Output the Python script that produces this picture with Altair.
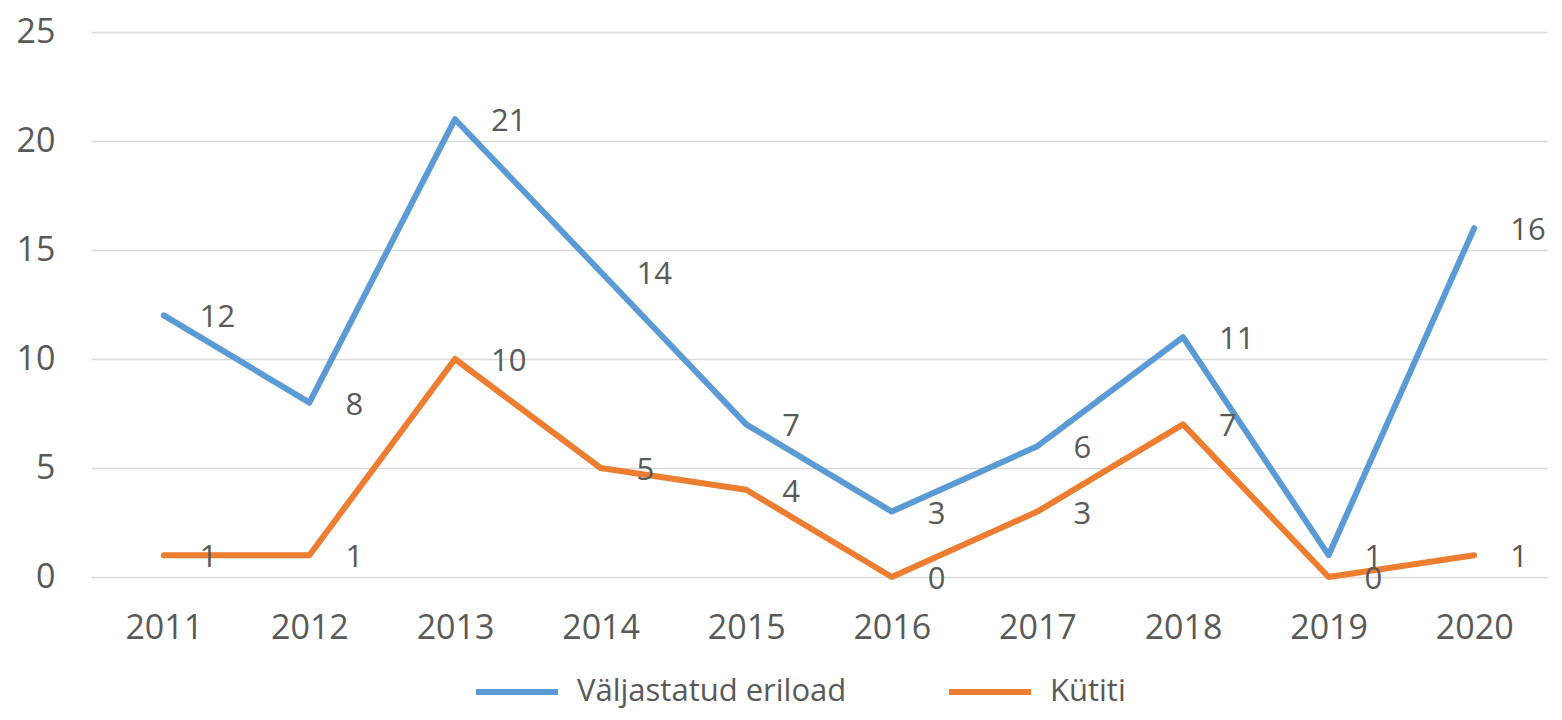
import altair as alt
import pandas as pd

years = ["2011", "2012", "2013", "2014", "2015", "2016", "2017", "2018", "2019", "2020"]
eriload = [12, 8, 21, 14, 7, 3, 6, 11, 1, 16]
kutiti = [1, 1, 10, 5, 4, 0, 3, 7, 0, 1]
series_names = ["Väljastatud eriload", "Kütiti"]
series_colors = ["#5B9BD5", "#ED7D31"]
y_ticks = [0, 5, 10, 15, 20, 25]

rows = []
for name, vals in zip(series_names, [eriload, kutiti]):
    for yr, v in zip(years, vals):
        rows.append({"year": yr, "value": v, "series": name})
df = pd.DataFrame(rows)

FONT = "Open Sans"
TXT = "#595959"

x_enc = alt.X(
    "year:O",
    sort=years,
    scale=alt.Scale(type="point", padding=0.5),
    axis=alt.Axis(title=None, labelAngle=0, domain=False, ticks=False, grid=False,
                  labelPadding=34, labelFontSize=34, labelColor=TXT, labelFont=FONT),
)
y_enc = alt.Y(
    "value:Q",
    scale=alt.Scale(domain=[0, 25], nice=False),
    axis=alt.Axis(title=None, values=y_ticks, domain=False, ticks=False, grid=True,
                  gridColor="#D9D9D9", gridWidth=1.5, labelPadding=36,
                  labelFontSize=34, labelColor=TXT, labelFont=FONT),
)
color_enc = alt.Color(
    "series:N",
    sort=series_names,
    scale=alt.Scale(domain=series_names, range=series_colors),
    legend=alt.Legend(title=None, orient="none", direction="horizontal",
                      legendX=382, legendY=616, symbolType="stroke",
                      symbolSize=6724, symbolStrokeWidth=6, labelFontSize=31,
                      labelColor=TXT, labelFont=FONT, columnPadding=90,
                      labelOffset=16, padding=0, labelLimit=0),
)

lines = alt.Chart(df).mark_line(strokeWidth=6, strokeCap="round", strokeJoin="round").encode(
    x=x_enc, y=y_enc, color=color_enc, order=alt.Order("year:O")
)
labels = alt.Chart(df).mark_text(align="left", baseline="middle", dx=36, dy=3,
                                 fontSize=31, font=FONT, color=TXT).encode(
    x=alt.X("year:O", sort=years), y="value:Q", text="value:Q"
)

chart = (lines + labels).properties(
    width=1456, height=545,
    background="white",
    autosize=alt.AutoSizeParams(type="none"),
    padding={"left": 83, "top": 24, "right": 7, "bottom": 135},
).configure_view(strokeWidth=0, stroke=None)

chart.save("out.html", embed_options={"renderer": "svg", "actions": False})
